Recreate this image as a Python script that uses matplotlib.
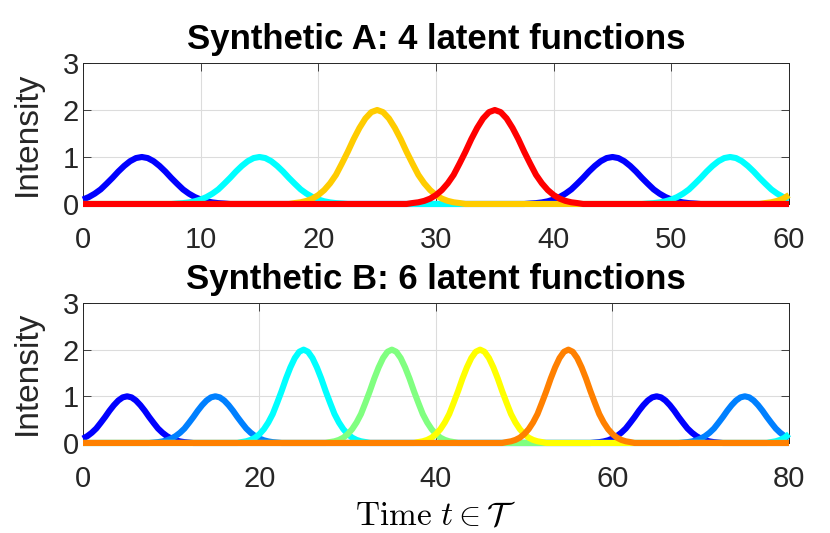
import numpy as np
import matplotlib
matplotlib.use("Agg")
import matplotlib.pyplot as plt

plt.rcParams['font.family'] = ['Liberation Sans', 'DejaVu Sans']
plt.rcParams['mathtext.fontset'] = 'cm'

# Shape of one bump, read at half-unit offsets -7..7 from its peak
bump_step = 0.5
bump_profile = [0.010, 0.018, 0.033, 0.057, 0.095, 0.148, 0.22, 0.31,
                0.43, 0.555, 0.69, 0.81, 0.91, 0.977, 1.00,
                0.977, 0.91, 0.81, 0.69, 0.555, 0.43, 0.31, 0.22,
                0.148, 0.095, 0.057, 0.033, 0.018, 0.010]

# Synthetic A: time 0..60, 4 latent functions
t_a_max = 60
a_centers = [[5, 45], [15, 55], [25, 65], [35]]
a_heights = [[1, 1], [1, 1], [2, 2], [2]]
a_colors = ['#0000FF', '#00FFFF', '#FFCC00', '#FF0000']

# Synthetic B: time 0..80, 6 latent functions
t_b_max = 80
b_centers = [[5, 65], [15, 75], [25, 85], [35], [45], [55]]
b_heights = [[1, 1], [1, 1], [2, 2], [2], [2], [2]]
b_colors = ['#0000FF', '#0080FF', '#00FFFF', '#80FF80', '#FFFF00', '#FF8000']

titles = ['Synthetic A: 4 latent functions', 'Synthetic B: 6 latent functions']
xticks_a = [0, 10, 20, 30, 40, 50, 60]
xticks_b = [0, 20, 40, 60, 80]
yticks = [0, 1, 2, 3]


def build(tmax, centers, heights):
    n = int(round(tmax / bump_step))
    t = np.arange(n + 1) * bump_step
    y = np.zeros(n + 1)
    half = len(bump_profile) // 2
    for c, h in zip(centers, heights):
        ci = int(round(c / bump_step))
        for k, v in enumerate(bump_profile):
            idx = ci - half + k
            if 0 <= idx <= n:
                y[idx] += h * v
    return t, y


fig = plt.figure(figsize=(8.3, 5.33), dpi=100)
ax_a = fig.add_axes([0.1, 0.6173, 0.8506, 0.2645])
ax_b = fig.add_axes([0.1, 0.1689, 0.8506, 0.2627])

axcol = '#262626'
for ax, tmax, cens, hts, cols, title, xt in [
        (ax_a, t_a_max, a_centers, a_heights, a_colors, titles[0], xticks_a),
        (ax_b, t_b_max, b_centers, b_heights, b_colors, titles[1], xticks_b)]:
    for c, h, col in zip(cens, hts, cols):
        t, y = build(tmax, c, h)
        ax.plot(t, y, color=col, lw=4.4, solid_capstyle='butt',
                solid_joinstyle='round', clip_on=False, zorder=3)
    ax.set_xlim(0, tmax)
    ax.set_ylim(0, 3)
    ax.set_xticks(xt)
    ax.set_yticks(yticks)
    ax.grid(True, color='#dcdcdc', lw=0.8)
    ax.set_axisbelow(True)
    ax.tick_params(direction='in', length=6, width=0.6, colors=axcol,
                   labelsize=21, top=True, right=True, labelcolor='#262626')
    ax.tick_params(axis='x', pad=16)
    ax.tick_params(axis='y', pad=3)
    for s in ax.spines.values():
        s.set_color(axcol)
        s.set_linewidth(0.7)
    ax.set_ylabel('Intensity', fontsize=24, color='#262626', labelpad=14)
    ax.set_title(title, fontsize=25, fontweight='bold', pad=10)

ax_b.set_xlabel(r'$\mathrm{Time}\ t \in \mathcal{T}$', fontsize=24, labelpad=5)

fig.savefig('out.png', dpi=100)
